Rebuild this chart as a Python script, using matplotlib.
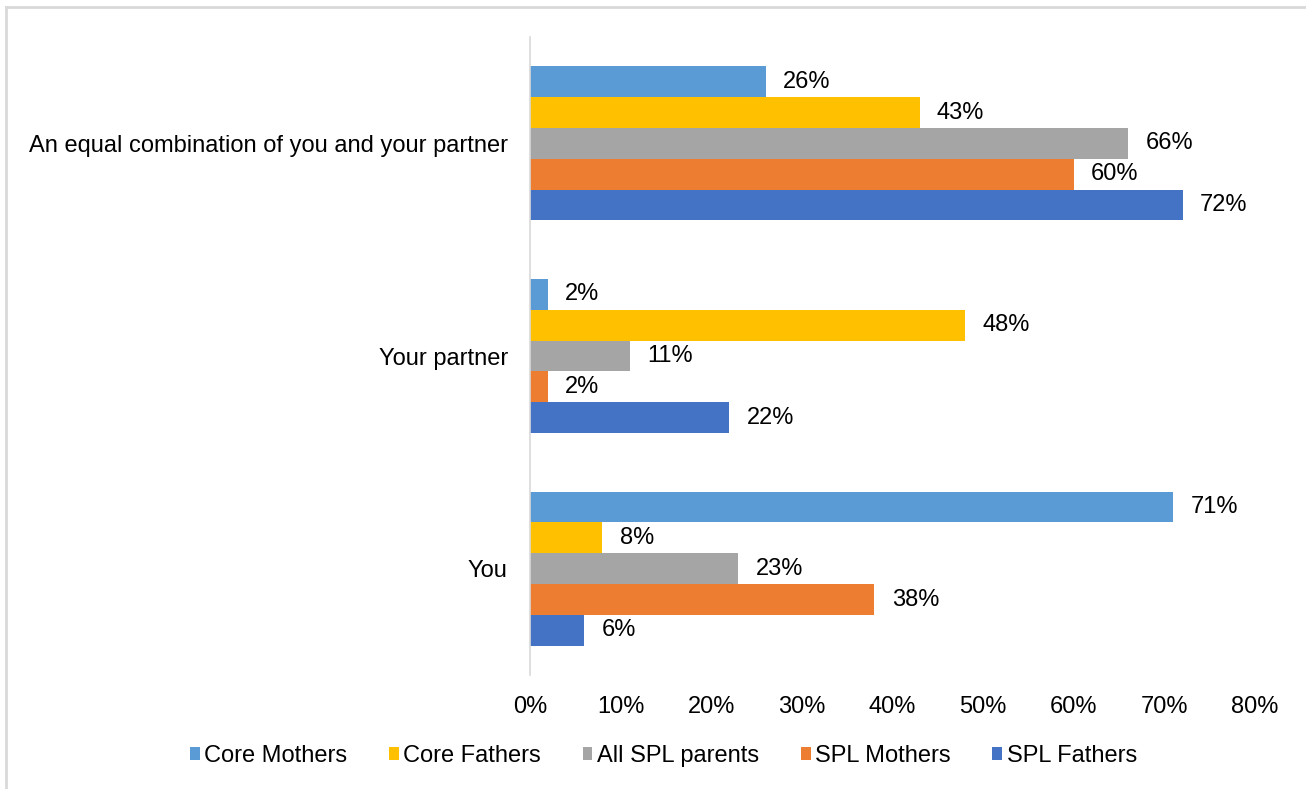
import numpy as np
import matplotlib.pyplot as plt
from matplotlib.lines import Line2D
from matplotlib.ticker import PercentFormatter

plt.rcParams['font.family'] = ['Liberation Sans', 'DejaVu Sans']

categories = ['You', 'Your partner', 'An equal combination of you and your partner']
series = ['Core Mothers', 'Core Fathers', 'All SPL parents', 'SPL Mothers', 'SPL Fathers']
colors = ['#5B9BD5', '#FFC000', '#A5A5A5', '#ED7D31', '#4472C4']
core_mothers = [71, 2, 26]
core_fathers = [8, 48, 43]
all_spl = [23, 11, 66]
spl_mothers = [38, 2, 60]
spl_fathers = [6, 22, 72]
values = [core_mothers, core_fathers, all_spl, spl_mothers, spl_fathers]

fs = 17

fig = plt.figure(figsize=(13.06, 7.89), dpi=100)
ax = fig.add_axes([0.4058, 0.1445, 0.961 - 0.4058, 0.953 - 0.1445])

y = np.arange(len(categories))
h = 0.145
for i, (name, vals, c) in enumerate(zip(series, values, colors)):
    off = (2 - i) * h
    bars = ax.barh(y + off, vals, height=h, color=c, label=name)
    for b, v in zip(bars, vals):
        ax.text(v + 1.9, b.get_y() + b.get_height() / 2, f'{v}%',
                va='center', ha='left', fontsize=fs)

ax.set_xlim(0, 80)
ax.set_ylim(-0.5, 2.5)
ax.set_xticks(np.arange(0, 81, 10))
ax.xaxis.set_major_formatter(PercentFormatter(decimals=0))
ax.set_yticks(y)
ax.set_yticklabels(categories)
ax.tick_params(length=0, labelsize=fs)
ax.tick_params(axis='x', pad=15)
ax.tick_params(axis='y', pad=16)
for s in ['top', 'right', 'bottom']:
    ax.spines[s].set_visible(False)
ax.spines['left'].set_color('#D9D9D9')
ax.spines['left'].set_linewidth(1.2)

handles, labels = ax.get_legend_handles_labels()
fig.legend(handles, labels, loc='center', bbox_to_anchor=(0.508, 0.042), ncol=5,
           frameon=False, fontsize=fs, handlelength=0.42, handleheight=0.42,
           handletextpad=0.2, columnspacing=1.75)

fig.add_artist(Line2D([0.0046, 1], [0.991, 0.991], color='#D9D9D9', lw=2))
fig.add_artist(Line2D([0.0046, 0.0046], [0, 0.991], color='#D9D9D9', lw=2))

fig.savefig('out.png', dpi=100)
